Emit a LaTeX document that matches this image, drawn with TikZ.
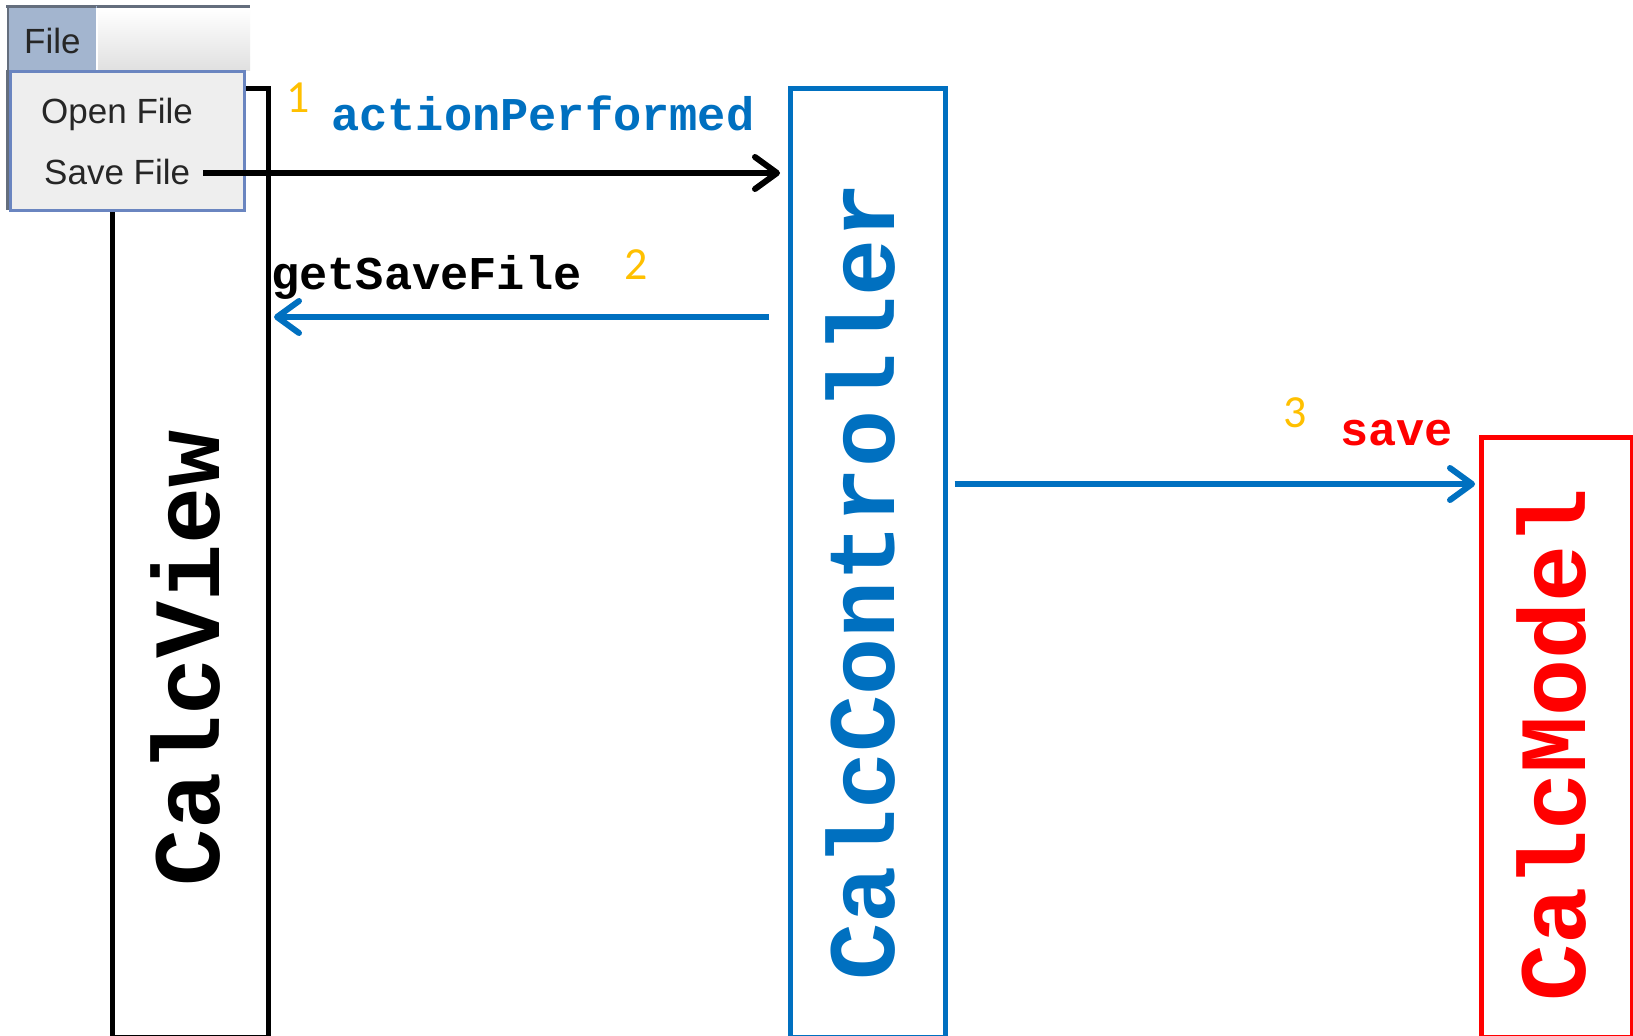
\documentclass[tikz,border=0pt]{standalone}
\usepackage{fontspec}
\setmainfont{Liberation Sans}
\newfontfamily\monofont{Liberation Mono}
\newfontfamily\numfont{Carlito}
\usetikzlibrary{arrows.meta,calc}
\definecolor{ctrlblue}{RGB}{0,112,192}
\definecolor{numorange}{RGB}{255,192,0}
\definecolor{menublue}{RGB}{106,133,192}
\definecolor{menugray}{RGB}{238,238,238}
\definecolor{filebtn}{RGB}{163,181,207}
\definecolor{bardark}{RGB}{100,110,125}
\begin{document}
\begin{tikzpicture}[x=1pt,y=-1pt,
  lifebox/.style={draw, line width=5pt, inner sep=0pt, anchor=north west},
  vlabel/.style={rotate=90, anchor=base west, inner sep=0pt, font=\monofont\bfseries\fontsize{95}{95}\selectfont},
  msg/.style={anchor=base west, inner sep=0pt, font=\monofont\bfseries\fontsize{47}{47}\selectfont},
  num/.style={inner sep=0pt, text=numorange, font=\numfont\fontsize{46}{46}\selectfont},
  menuitem/.style={anchor=base west, inner sep=0pt, font=\fontsize{35}{35}\selectfont, text=black!85},
  callarrow/.style={line width=6pt, -{Straight Barb[length=22pt,width=32pt,round]}}
]
\useasboundingbox (0,0) rectangle (1633,1036);
\fill[white] (0,0) rectangle (1633,1036);
% lifeline boxes
\node[lifebox, draw=black, minimum width=156pt, minimum height=948.5pt] (view) at (110,86) {};
\node[lifebox, draw=ctrlblue, line width=4.5pt, minimum width=155pt, minimum height=948.5pt] (ctrl) at (788,86) {};
\node[lifebox, draw=red, line width=4.5pt, minimum width=151pt, minimum height=599.5pt] (model) at (1479,435) {};
\node[vlabel] (viewlbl) at (219,887) {CalcView};
\node[vlabel, text=ctrlblue] (ctrllbl) at (894,981) {CalcController};
\node[vlabel, text=red] (modellbl) at (1585,1002) {CalcModel};
% menu
\fill[bardark] (6,5) rectangle (250,8);
\shade[top color=white, bottom color=black!12] (97,8) rectangle (250,70);
\fill[filebtn] (7,6) rectangle (97,70);
\draw[bardark, line width=2pt] (8,70) -- (8,7) -- (96,7);
\draw[white, line width=1.5pt] (97,8) -- (97,70);
\fill[bardark] (6,70) rectangle (10,210);
\node[menuitem] (filemenu) at (24,53) {File};
\node[draw=menublue, fill=menugray, line width=2.5pt, anchor=north west, minimum width=234pt, minimum height=139pt, inner sep=0pt] (dropdown) at (9,70) {};
\node[menuitem] (openfile) at (41,123) {Open File};
\node[menuitem] (savefile) at (44,184) {Save File};
% helper levels
\coordinate (lvl2) at (0,317);
\coordinate (lvl3) at (0,484);
% messages
\draw[callarrow, black] ($(savefile.base east)+(13,-11)$) -- ($(savefile.base east -| ctrl.west)+(-8,-11)$);
\draw[callarrow, ctrlblue] ($(ctrl.west |- lvl2)+(-19,0)$) -- ($(view.east |- lvl2)+(3,0)$);
\draw[callarrow, ctrlblue] ($(ctrl.east |- lvl3)+(7,0)$) -- ($(model.west |- lvl3)+(-4,0)$);
\node[num] (n1) at (298,98) {1};
\node[num] (n2) at (636,265) {2};
\node[num] (n3) at (1295,413) {3};
\node[msg, text=ctrlblue] (m1) at (331,130) {actionPerformed};
\node[msg] (m2) at (271,289) {getSaveFile};
\node[msg, text=red] (m3) at (1340,445) {save};
\end{tikzpicture}
\end{document}
